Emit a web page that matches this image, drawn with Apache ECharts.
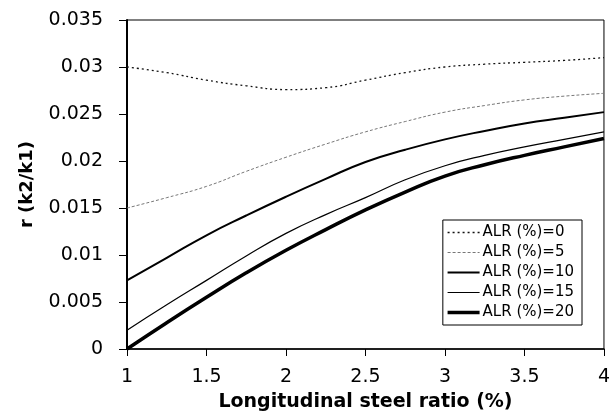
<!DOCTYPE html>
<html>
<head>
<meta charset="utf-8">
<script src="https://cdn.jsdelivr.net/npm/echarts@6/dist/echarts.min.js"></script>
<style>
  html, body { margin: 0; padding: 0; background: #fff; }
  #chart { width: 613px; height: 417px; }
</style>
</head>
<body>
<div id="chart"></div>
<script>
// steel ratio (%)
var ratios = [1, 1.25, 1.5, 1.75, 2, 2.25, 2.5, 2.75, 3, 3.25, 3.5, 3.75, 4];
var alr0  = [0.0300, 0.0294, 0.0286, 0.0280, 0.0276, 0.0278, 0.0286, 0.0294, 0.0300, 0.0303, 0.0305, 0.0307, 0.0310];
var alr5  = [0.0150, 0.0161, 0.0173, 0.0189, 0.0204, 0.0218, 0.0231, 0.0242, 0.0252, 0.0259, 0.0265, 0.0269, 0.0272];
var alr10 = [0.0073, 0.0097, 0.0121, 0.0142, 0.0162, 0.0181, 0.0199, 0.0212, 0.0223, 0.0232, 0.0240, 0.0246, 0.0252];
var alr15 = [0.0020, 0.0047, 0.0073, 0.0099, 0.0123, 0.0143, 0.0161, 0.0180, 0.0195, 0.0206, 0.0215, 0.0223, 0.0231];
var alr20 = [0.0000, 0.0028, 0.0055, 0.0081, 0.0105, 0.0127, 0.0148, 0.0167, 0.0184, 0.0196, 0.0206, 0.0215, 0.0224];
var yTicks = [0, 0.005, 0.01, 0.015, 0.02, 0.025, 0.03, 0.035];

function pairs(ys) {
  return ratios.map(function (x, i) { return [x, ys[i]]; });
}

var myChart = echarts.init(document.getElementById('chart'));
var font = 'DejaVu Sans, sans-serif';

var series = [
  { name: 'ALR (%)=0', type: 'line', smooth: true, symbol: 'none', data: pairs(alr0),
    lineStyle: { color: '#111', width: 1.3, type: [2, 3] }, itemStyle: { color: '#111' } },
  { name: 'ALR (%)=5', type: 'line', smooth: true, symbol: 'none', data: pairs(alr5),
    lineStyle: { color: '#777', width: 1, type: [3, 2] }, itemStyle: { color: '#777' } },
  { name: 'ALR (%)=10', type: 'line', smooth: true, symbol: 'none', data: pairs(alr10),
    lineStyle: { color: '#000', width: 2 }, itemStyle: { color: '#000' } },
  { name: 'ALR (%)=15', type: 'line', smooth: true, symbol: 'none', data: pairs(alr15),
    lineStyle: { color: '#000', width: 1.2 }, itemStyle: { color: '#000' } },
  { name: 'ALR (%)=20', type: 'line', smooth: true, symbol: 'none', data: pairs(alr20),
    lineStyle: { color: '#000', width: 3.5 }, itemStyle: { color: '#000' } }
];

var option = {
  animation: false,
  grid: {
    left: 127, right: 9, top: 20, bottom: 68,
    show: true, borderColor: '#000', borderWidth: 1
  },
  legend: {
    orient: 'vertical',
    right: 31, top: 220,
    itemWidth: 32, itemHeight: 14, itemGap: 5,
    padding: [5, 8, 5, 3],
    backgroundColor: '#fff',
    borderColor: '#000', borderWidth: 1,
    itemStyle: { opacity: 0 },
    textStyle: { fontFamily: font, fontSize: 15, color: '#000', padding: [0, 0, 0, -2] },
    data: series.map(function (s) {
      return { name: s.name, lineStyle: { width: s.lineStyle.width, type: s.lineStyle.type || 'solid', color: s.lineStyle.color } };
    })
  },
  xAxis: {
    type: 'value', min: 1, max: 4, interval: 0.5,
    name: 'Longitudinal steel ratio (%)',
    nameLocation: 'middle', nameGap: 44,
    nameTextStyle: { fontFamily: font, fontSize: 19, fontWeight: 'bold', color: '#000' },
    axisLine: { lineStyle: { color: '#000', width: 1.5 } },
    axisTick: { length: 7, lineStyle: { color: '#000' } },
    axisLabel: { fontFamily: font, fontSize: 19, color: '#000', margin: 19 },
    splitLine: { show: false }
  },
  yAxis: {
    type: 'value', min: 0, max: 0.035, interval: 0.005,
    name: 'r (k2/k1)',
    nameLocation: 'middle', nameGap: 91,
    nameTextStyle: { fontFamily: font, fontSize: 18, fontWeight: 'bold', color: '#000' },
    axisLine: { show: true, lineStyle: { color: '#000', width: 2 } },
    axisTick: { show: true, length: 8, lineStyle: { color: '#000' } },
    axisLabel: {
      fontFamily: font, fontSize: 19, color: '#000', margin: 24,
      formatter: function (v) {
        var t = yTicks.find(function (k) { return Math.abs(k - v) < 1e-9; });
        return t === undefined ? '' : String(+t.toFixed(3));
      }
    },
    splitLine: { show: false }
  },
  series: series
};
myChart.setOption(option);
window.addEventListener('resize', function () {
  myChart.resize();
});
</script>
</body>
</html>
